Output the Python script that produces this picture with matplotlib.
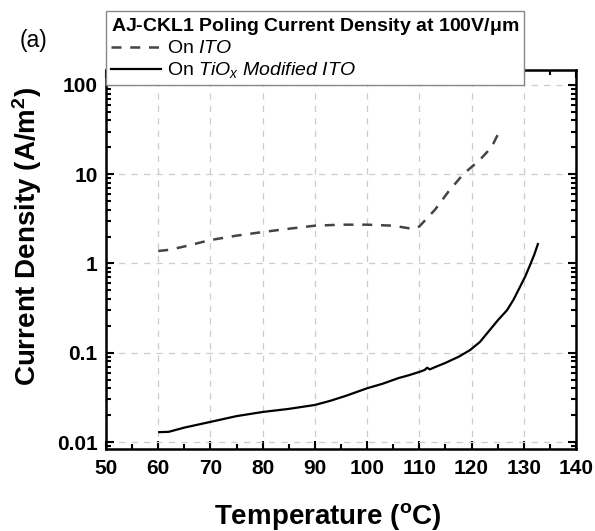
import numpy as np
import matplotlib
matplotlib.use("Agg")
import matplotlib.pyplot as plt
from matplotlib.ticker import FixedLocator, LogLocator, NullFormatter

plt.rcParams['font.family'] = ['Liberation Sans', 'DejaVu Sans']
plt.rcParams['mathtext.fontset'] = 'custom'
plt.rcParams['mathtext.rm'] = 'Liberation Sans'
plt.rcParams['mathtext.it'] = 'Liberation Sans:italic'
plt.rcParams['mathtext.bf'] = 'Liberation Sans:bold'

# Curva sobre ITO (discontinua)
temp_ito = [60, 62, 65, 70, 75, 80, 85, 90, 95, 100, 105, 108, 109, 110, 111,
            113, 115.5, 118.4, 121.6, 123, 124, 125]
dens_ito = [1.38, 1.42, 1.55, 1.83, 2.05, 2.25, 2.45, 2.65, 2.72, 2.72, 2.65, 2.48, 2.45, 2.6, 3.0,
            4.0, 6.3, 10.0, 14.5, 17.8, 21.0, 27.6]

# Curva sobre ITO modificado con TiOx (continua)
temp_tiox = [60.2, 62, 65, 70, 75, 80, 85, 90, 93, 96, 100, 103, 106, 108, 110, 111, 111.5, 112,
             113, 115, 117.5, 119.7, 121.6, 123.5, 125, 126.8, 128, 129.3, 130.3, 131.2, 132, 132.7]
dens_tiox = [0.0129, 0.013, 0.0145, 0.0168, 0.0195, 0.0217, 0.0235, 0.026, 0.029, 0.033, 0.040, 0.045,
             0.052, 0.056, 0.061, 0.064, 0.068, 0.065, 0.069, 0.077, 0.09, 0.107, 0.132, 0.18, 0.23,
             0.30, 0.39, 0.55, 0.72, 0.96, 1.25, 1.65]

xticks = [50, 60, 70, 80, 90, 100, 110, 120, 130, 140]
yticks = [0.01, 0.1, 1, 10, 100]
ylabels = ['0.01', '0.1', '1', '10', '100']

fig = plt.figure(figsize=(5.95, 5.31), dpi=100)
ax = fig.add_axes([106/595, 1-449/531, 470/595, 379/531])

ax.plot(temp_ito, dens_ito, color='#444444', linestyle=(0, (4, 3.5)), linewidth=1.8,
        label='On $\\mathit{ITO}$')
ax.plot(temp_tiox, dens_tiox, color='black', linestyle='-', linewidth=1.6,
        label='On $\\mathit{TiO_x\\ Modified\\ ITO}$')

ax.set_yscale('log')
ax.set_xlim(50, 140)
ax.set_ylim(0.00835, 147)
ax.set_xticks(xticks)
ax.set_xticklabels([str(t) for t in xticks])
ax.xaxis.set_minor_locator(FixedLocator(np.arange(55, 140, 10)))
ax.set_yticks(yticks)
ax.set_yticklabels(ylabels)
ax.yaxis.set_minor_locator(LogLocator(base=10, subs=np.arange(2, 10), numticks=20))
ax.yaxis.set_minor_formatter(NullFormatter())

ax.tick_params(which='both', direction='in', top=True, right=True, width=1.5)
ax.tick_params(which='major', length=6, labelsize=15)
ax.tick_params(axis='x', which='major', pad=7)
ax.tick_params(axis='y', which='major', pad=6)
ax.tick_params(which='minor', length=3.5)
for lbl in ax.get_xticklabels() + ax.get_yticklabels():
    lbl.set_fontweight('bold')
for s in ax.spines.values():
    s.set_linewidth(1.8)

ax.grid(True, which='major', linestyle=(0, (5, 5)), color='#cccccc', linewidth=0.9)

ax.set_xlabel('Temperature ($\\mathbf{^o}$C)', fontsize=20, fontweight='bold')
ax.set_ylabel('Current Density (A/m$\\mathbf{^2}$)', fontsize=20, fontweight='bold')
ax.xaxis.set_label_coords((328 - 106) / 470, -(501 - 449) / 379)
ax.yaxis.set_label_coords(-(106 - 44) / 470, (449 - 236) / 379)

leg = ax.legend(loc='upper left', bbox_to_anchor=(0, 1 + 59/379), borderaxespad=0,
                title='AJ-CKL1 Poling Current Density at 100V/$\\mathbf{\\mu}$m',
                fontsize=14, fancybox=False, framealpha=1, edgecolor='#888888',
                handlelength=2.6, handletextpad=0.3, labelspacing=0.15,
                alignment='left', borderpad=0.25)
leg.get_title().set_fontweight('bold')
leg.get_title().set_fontsize(14)
leg.get_frame().set_linewidth(1.0)

fig.text(20/595, 1-40/531, '(a)', fontsize=16.5, va='center', ha='left')

fig.savefig('out.png', dpi=100)
